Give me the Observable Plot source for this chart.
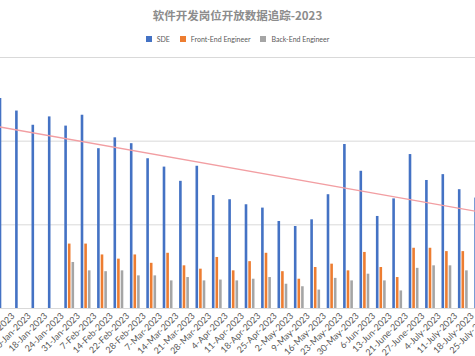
<!DOCTYPE html>
<html><head><meta charset="utf-8">
<script src="https://cdn.jsdelivr.net/npm/d3@7"></script>
<script src="https://cdn.jsdelivr.net/npm/@observablehq/plot@0.6"></script>
<style>
body{margin:0;background:#fff;}
#wrap{width:475px;height:356px;overflow:hidden;position:relative;background:#fff;}
#title{height:28px;line-height:31px;text-align:center;font-family:"Noto Sans CJK SC",sans-serif;font-size:11.5px;color:#8c8c8c;font-weight:bold;}
#legend{height:22px;display:flex;justify-content:center;align-items:center;font-family:Lato,"Noto Sans",sans-serif;font-size:7px;color:#595959;}
.item{display:flex;align-items:center;margin:0 5px;}
.sw{width:6px;height:6px;margin-right:5px;}
#chart svg{display:block;}
</style></head>
<body>
<div id="wrap">
  <div id="title"></div>
  <div id="legend"></div>
  <div id="chart"></div>
</div>
<script>
const titleText = "软件开发岗位开放数据追踪-2023";
const seriesNames = ["SDE", "Front-End Engineer", "Back-End Engineer"];
const seriesColors = ["#4472C4", "#ED7D31", "#A5A5A5"];
const dates = ["3-Jan-2023","10-Jan-2023","18-Jan-2023","24-Jan-2023","31-Jan-2023","7-Feb-2023","14-Feb-2023","22-Feb-2023","28-Feb-2023","7-Mar-2023","14-Mar-2023","21-Mar-2023","28-Mar-2023","4-Apr-2023","11-Apr-2023","18-Apr-2023","25-Apr-2023","2-May-2023","9-May-2023","16-May-2023","23-May-2023","30-May-2023","6-Jun-2023","13-Jun-2023","21-June-2023","27-June-2023","4-July-2023","11-July-2023","18-July-2023","25-July-2023"];
const sde = [251,236,219,229,218,231,191,204,197,179,169,152,170,135,130,124,120,104,98,106,136,196,164,110,131,184,153,160,142,132];
const frontEnd = [null,null,null,null,77,77,64,59,64,54,66,51,47,61,45,56,66,44,35,49,53,45,67,49,37,72,72,68,68,null];
const backEnd = [null,null,null,null,55,45,44,45,39,39,33,37,33,34,33,35,37,29,26,22,36,33,41,33,21,48,51,51,45,null];
const yGrid = [0,100,200,300];

document.getElementById("title").textContent = titleText;
const lg = document.getElementById("legend");
seriesNames.forEach((n,k)=>{
  const it=document.createElement("div");it.className="item";
  const sw=document.createElement("div");sw.className="sw";sw.style.background=seriesColors[k];
  const t=document.createElement("span");t.textContent=n;
  it.appendChild(sw);it.appendChild(t);lg.appendChild(it);
});

const rows = dates.map((d,i)=>({i, date:d, sde:sde[i], fe:frontEnd[i], be:backEnd[i]}));
const idx = rows.map(r=>r.i);
// least-squares linear trend of SDE
const n = sde.length;
const mx = d3.mean(idx), my = d3.mean(sde);
const slope = d3.sum(idx, i=>(i-mx)*(sde[i]-my)) / d3.sum(idx, i=>(i-mx)*(i-mx));
const icpt = my - slope*mx;
const trend = [-0.5, n-0.5].map(i=>({i, v: icpt + slope*i}));

const chart = Plot.plot({
  width: 475, height: 306,
  marginLeft: 0, marginRight: 0, marginTop: 7, marginBottom: 48,
  style: {fontSize: "9px", fontFamily: "Lato, 'Noto Sans', sans-serif", color: "#595959", background: "white"},
  x: {type: "linear", domain: [-0.2195, 28.744], label: null},
  y: {domain: [0,300], axis: null},
  marks: [
    Plot.ruleY(yGrid, {stroke: "#d9d9d9", strokeWidth: 1}),
    Plot.rectY(rows, {x1: d=>d.i-0.5, x2: d=>d.i+0.5, y: "sde", fill: seriesColors[0], insetLeft: 3.3, insetRight: 10.5}),
    Plot.rectY(rows, {x1: d=>d.i-0.5, x2: d=>d.i+0.5, y: "fe", fill: seriesColors[1], insetLeft: 6.9, insetRight: 6.9}),
    Plot.rectY(rows, {x1: d=>d.i-0.5, x2: d=>d.i+0.5, y: "be", fill: seriesColors[2], insetLeft: 10.5, insetRight: 3.3}),
    Plot.line(trend, {x: "i", y: "v", stroke: "#f29ea2", strokeWidth: 1.3}),
    Plot.axisX({ticks: idx, tickFormat: i => dates[i], tickRotate: -45, tickSize: 0, tickPadding: 6, dx: 9, label: null})
  ]
});
document.getElementById("chart").appendChild(chart);
</script>
</body></html>
